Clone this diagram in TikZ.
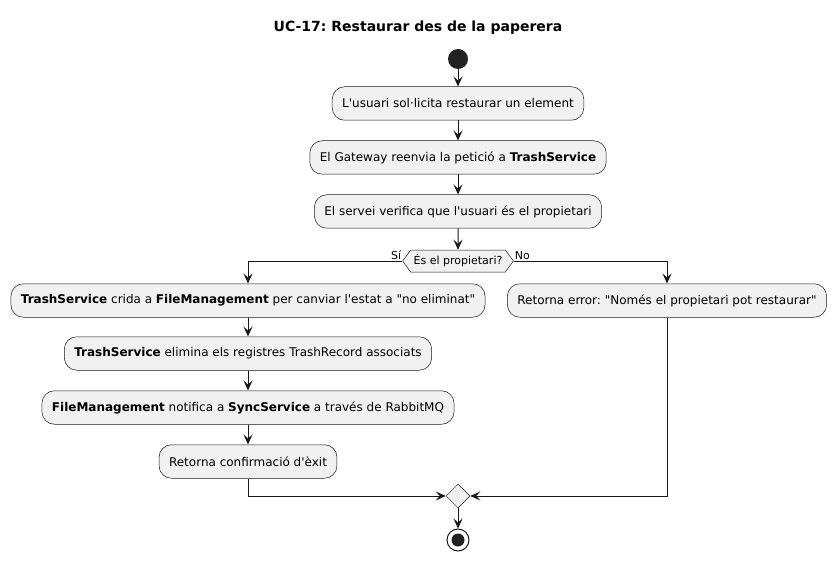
\documentclass[tikz,border=0pt]{standalone}
\usepackage{fontspec}
\setmainfont{DejaVu Sans}[Ligatures=TeXOff]
\frenchspacing
\usetikzlibrary{arrows.meta,shapes.geometric,shapes.symbols}
\definecolor{boxfill}{HTML}{F1F1F1}
\definecolor{linec}{HTML}{181818}
\definecolor{dotc}{HTML}{222222}

\begin{document}
\begin{tikzpicture}[
            x=1pt, y=-1pt,
            node distance=54pt,
            font=\fontsize{12}{14}\selectfont,
            action/.style={rectangle, draw=linec, line width=0.5pt, fill=boxfill, rounded corners=12.5pt, minimum height=33.5pt, inner xsep=10pt},
            decision/.style={signal, signal to=west and east, signal pointer angle=108, draw=linec, line width=0.5pt, fill=boxfill, minimum height=22pt, inner xsep=3pt, inner ysep=0pt, font=\fontsize{11}{13}\selectfont},
            merge/.style={diamond, draw=linec, line width=0.5pt, fill=boxfill, minimum size=24pt, inner sep=0pt},
            startnode/.style={circle, fill=dotc, minimum size=20pt, inner sep=0pt},
            endnode/.style={circle, draw=linec, line width=1pt, minimum size=22pt, inner sep=0pt, path picture={\fill[dotc] (path picture bounding box.center) circle (6.5pt);}},
            arrow/.style={-{Stealth[length=10pt, width=9pt, inset=4pt]}, line width=1pt, draw=linec},
            line/.style={line width=1pt, draw=linec},
            branch/.style={font=\fontsize{11}{13}\selectfont, inner sep=1pt}
            ]
            \useasboundingbox (0,0) rectangle (837,561);

            % Title
            \node[font=\bfseries\fontsize{14}{16}\selectfont] (title) at (418,28) {UC-17: Restaurar des de la paperera};

            % Main flow
            \node[startnode] (start) at (458,59) {};
            \node[action, below of=start, yshift=9.5pt] (ask) {L'usuari sol·licita restaurar un element};
            \node[action, below of=ask] (fwd) {El Gateway reenvia la petició a \textbf{TrashService}};
            \node[action, below of=fwd] (check) {El servei verifica que l'usuari és el propietari};
            \node[decision, below of=check, yshift=4.5pt] (owner) {És el propietari?};

            % Branch: yes
            \node[action] (call) at (248,300.5) {\textbf{TrashService} crida a \textbf{FileManagement} per canviar l'estat a "no eliminat"};
            \node[action, below of=call, yshift=1pt] (clean) {\textbf{TrashService} elimina els registres TrashRecord associats};
            \node[action, below of=clean] (notify) {\textbf{FileManagement} notifica a \textbf{SyncService} a través de RabbitMQ};
            \node[action, below of=notify] (done) {Retorna confirmació d'èxit};

            % Branch: no
            \node[action] (error) at (667,300.5) {Retorna error: "Només el propietari pot restaurar"};

            % End
            \node[merge] (join) at (458,496) {};
            \node[endnode, below of=join, yshift=10pt] (stop) {};

            % Branch labels
            \node[branch, anchor=south east] (yes) at (owner.west) {Sí};
            \node[branch, anchor=south west] (no) at (owner.east) {No};

            % Arrows
            \draw[arrow] (start) -- (ask);
            \draw[arrow] (ask) -- (fwd);
            \draw[arrow] (fwd) -- (check);
            \draw[arrow] (check) -- (owner);
            \draw[arrow] (owner.west) -| (call.north);
            \draw[arrow] (owner.east) -| (error.north);
            \draw[arrow] (call) -- (clean);
            \draw[arrow] (clean) -- (notify);
            \draw[arrow] (notify) -- (done);
            \draw[arrow] (done.south) |- (join.west);
            \draw[arrow] (error.south) |- (join.east);
            \draw[arrow] (join) -- (stop);

        \end{tikzpicture}
\end{document}
